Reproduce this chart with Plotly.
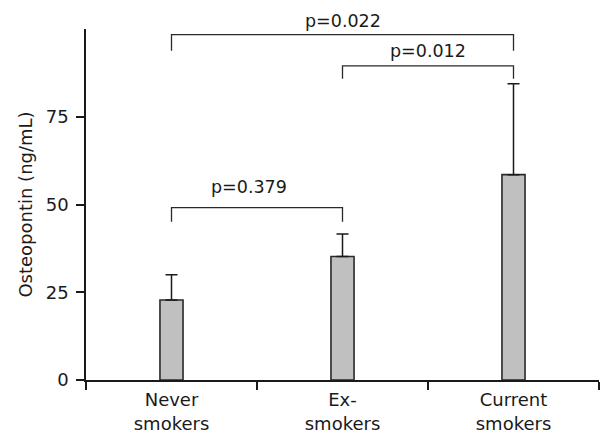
import plotly.graph_objects as go

categories = ["Never<br>smokers", "Ex-<br>smokers", "Current<br>smokers"]
means = [22.8, 35.2, 58.5]
sd_upper = [7.2, 6.4, 25.9]

# significance brackets: (left group, right group), leg bottom and bar height
bracket_pairs = [(0, 1), (1, 2), (0, 2)]
bracket_low = [45.1, 85.8, 93.8]
bracket_high = [49.1, 89.5, 98.4]
p_labels = ["p=0.379", "p=0.012", "p=0.022"]
p_label_y = [55.0, 93.8, 102.4]

Y_MAX = 100
ink = "#1a1a1a"
font_family = "DejaVu Sans, sans-serif"

fig = go.Figure()
fig.add_trace(go.Bar(
    x=categories, y=means,
    marker=dict(color="#c0c0c0", line=dict(color="#2a2a2a", width=1.6)),
    error_y=dict(type="data", array=sd_upper, arrayminus=[0, 0, 0],
                 symmetric=False, color=ink, thickness=1.5, width=6),
    showlegend=False,
))

for i, (a, b) in enumerate(bracket_pairs):
    low, high = bracket_low[i], bracket_high[i]
    fig.add_trace(go.Scatter(
        x=[categories[a], categories[a], categories[b], categories[b]],
        y=[low, high, high, low],
        mode="lines", line=dict(color="#2a2a2a", width=1.3),
        showlegend=False, hoverinfo="skip", cliponaxis=False,
    ))
    fig.add_annotation(
        x=(a + b) / 2, y=p_label_y[i] / Y_MAX, xref="x", yref="paper",
        text=p_labels[i], showarrow=False, yanchor="middle",
        xshift=-8 if (a, b) == (0, 1) else 0,
        font=dict(size=17.5, color=ink, family=font_family),
    )

fig.update_layout(
    width=604, height=442,
    margin=dict(l=86, r=5, t=29, b=62),
    paper_bgcolor="white", plot_bgcolor="white",
    bargap=0.865,
    font=dict(family=font_family, size=18, color=ink),
)
fig.update_xaxes(
    type="category", range=[-0.5, 2.5],
    showline=True, linecolor=ink, linewidth=1.5,
    ticks="outside", tickson="boundaries", ticklen=8, tickcolor=ink, tickwidth=1.5,
    ticklabelstandoff=3,
    showgrid=False, zeroline=False,
    tickfont=dict(size=18, color=ink),
)
fig.update_yaxes(
    range=[0, Y_MAX], tickvals=[0, 25, 50, 75],
    showline=True, linecolor=ink, linewidth=1.5,
    ticks="outside", ticklen=8, tickcolor=ink, tickwidth=1.5,
    ticklabelstandoff=4,
    showgrid=False, zeroline=False,
    tickfont=dict(size=18, color=ink),
    title=dict(text="Osteopontin (ng/mL)", font=dict(size=18, color=ink), standoff=8),
)

fig.write_html("out.html")
